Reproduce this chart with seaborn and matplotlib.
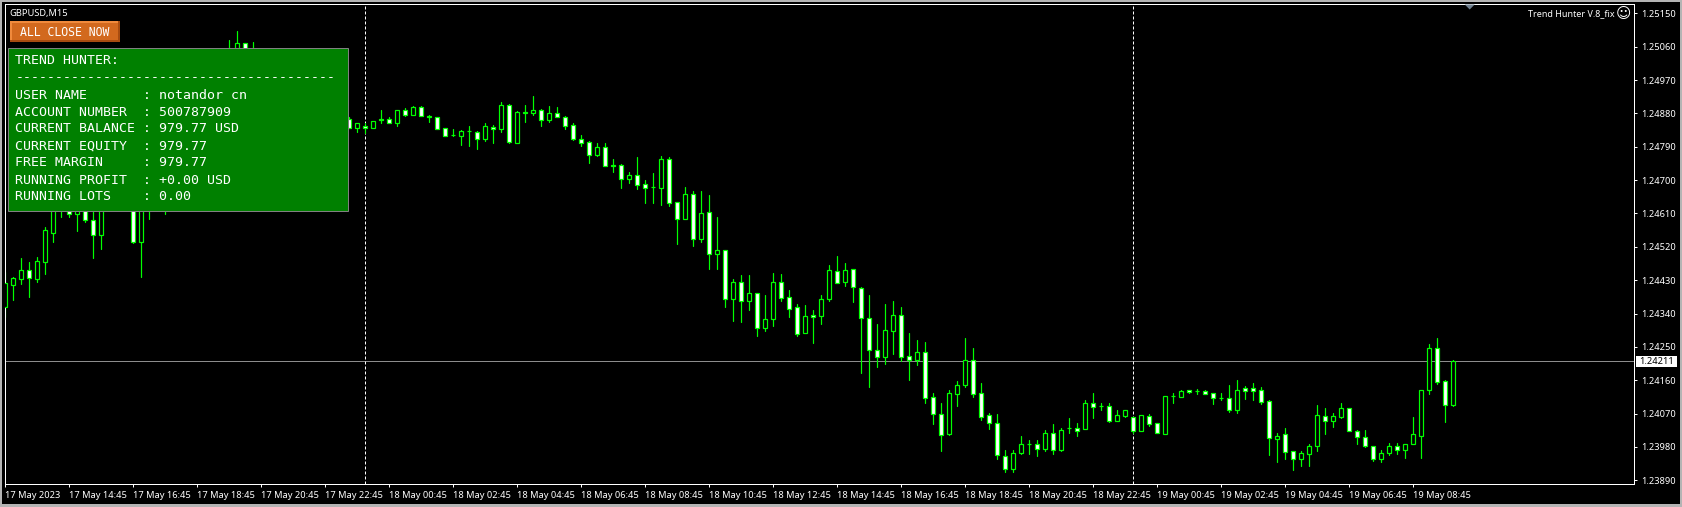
import matplotlib
matplotlib.use("Agg")
import matplotlib.pyplot as plt
from matplotlib.patches import Polygon, Rectangle
import pandas as pd
import seaborn as sns


# -----------------------------
# DATA (points above 1.24000, candles behind the panel are estimates)
# -----------------------------
base_price = 1.24

opens = [359, 417, 434, 457, 434, 480, 558, 640, 670, 608,
         650, 592, 553, 630, 665, 650, 720, 532, 720, 700,
         730, 700, 780, 830, 800, 880, 940, 910, 1010, 1040,
         1069, 1020, 990, 970, 940, 950, 910, 900, 920, 890,
         900, 870, 880, 864, 842, 846, 842, 865, 864, 855,
         889, 877, 897, 873, 870, 840, 821, 820, 832, 829,
         810, 843, 837, 902, 801, 883, 881, 889, 861, 881,
         870, 848, 810, 802, 769, 789, 741, 740, 702, 713,
         689, 681, 680, 756, 640, 594, 662, 542, 613, 502,
         511, 378, 424, 375, 395, 302, 324, 424, 384, 357,
         288, 335, 334, 380, 454, 426, 459, 408, 327, 243,
         224, 294, 335, 225, 216, 235, 114, 68, 16, 124,
         148, 216, 125, 65, 46, -43, -79, -36, -13, -13,
         -25, 17, -28, 30, 30, 29, 100, 90, 90, 51,
         64, 60, 24, 63, 44, 16, 117, 116, 134, 132,
         130, 125, 111, 111, 81, 138, 138, 133, 103, 2,
         14, -32, -52, -38, -17, 64, 51, 62, 84, 22,
         8, -16, -52, -36, -16, -28, -11, 10, 135, 246,
         157, 93]

highs = [451, 438, 489, 478, 493, 574, 680, 680, 690, 680,
         670, 640, 650, 680, 700, 690, 740, 740, 760, 740,
         760, 790, 840, 850, 890, 950, 960, 1020, 1078, 1102,
         1069, 1073, 1030, 990, 970, 960, 940, 930, 930, 910,
         910, 890, 890, 870, 854, 855, 859, 890, 870, 889,
         894, 899, 900, 877, 870, 840, 837, 836, 845, 833,
         855, 848, 910, 905, 886, 903, 927, 891, 900, 897,
         873, 854, 821, 805, 800, 800, 756, 743, 721, 762,
         700, 719, 765, 762, 640, 681, 670, 670, 659, 600,
         511, 432, 443, 443, 395, 390, 450, 446, 403, 365,
         362, 349, 389, 470, 495, 476, 459, 411, 389, 311,
         365, 373, 357, 287, 268, 262, 127, 100, 133, 157,
         273, 246, 154, 73, 68, -27, -27, 9, -2, 0,
         27, 41, 30, 57, 44, 106, 125, 100, 98, 80,
         81, 60, 65, 68, 44, 117, 125, 133, 135, 136,
         135, 125, 125, 146, 162, 144, 154, 141, 108, 17,
         30, -32, -32, -13, 92, 84, 73, 98, 84, 27,
         27, -16, -29, -8, -8, -13, 60, 135, 257, 273,
         162, 214]

lows = [330, 377, 420, 386, 426, 447, 533, 600, 601, 563,
        588, 491, 514, 625, 640, 630, 530, 440, 595, 650,
        609, 680, 770, 790, 790, 870, 900, 900, 990, 1020,
        1010, 980, 960, 930, 920, 900, 890, 880, 880, 870,
        860, 850, 850, 842, 831, 828, 842, 855, 853, 847,
        874, 877, 874, 858, 837, 818, 818, 796, 791, 783,
        806, 799, 831, 799, 801, 858, 877, 845, 858, 869,
        837, 807, 791, 745, 764, 737, 723, 680, 691, 677,
        637, 637, 634, 629, 529, 594, 523, 534, 461, 459,
        358, 320, 317, 350, 279, 293, 306, 375, 331, 279,
        288, 261, 312, 374, 423, 415, 372, 180, 143, 197,
        205, 232, 212, 162, 202, 99, 43, -30, 13, 91,
        143, 116, 54, 29, -52, -87, -87, -38, -38, -44,
        -30, -38, -30, 18, 10, 29, 59, 81, 48, 51,
        62, 17, 24, 37, 19, 16, 99, 116, 125, 122,
        122, 97, 107, 75, 72, 110, 108, 97, -41, -60,
        -52, -82, -71, -71, -30, 16, 35, 59, 24, -11,
        -19, -57, -60, -41, -38, -49, -11, -49, 124, 151,
        48, 90]

closes = [422, 435, 457, 437, 482, 565, 660, 670, 608, 650,
          593, 553, 630, 665, 650, 680, 532, 720, 700, 730,
          700, 780, 830, 800, 880, 940, 910, 1010, 1050, 1069,
          1020, 990, 970, 940, 950, 910, 900, 920, 890, 900,
          870, 880, 864, 842, 854, 842, 859, 861, 853, 889,
          877, 897, 874, 869, 839, 820, 821, 832, 832, 810,
          846, 837, 902, 804, 883, 880, 889, 861, 881, 869,
          847, 810, 801, 769, 789, 739, 737, 702, 713, 688,
          680, 681, 756, 639, 594, 662, 542, 611, 502, 511,
          380, 424, 375, 395, 302, 324, 424, 383, 353, 286,
          333, 332, 378, 457, 423, 457, 413, 329, 243, 224,
          295, 335, 224, 216, 235, 113, 70, 13, 125, 146,
          216, 124, 62, 45, -41, -79, -35, -13, -13, -25,
          17, -28, 27, 30, 24, 100, 89, 90, 51, 65,
          79, 22, 65, 43, 19, 117, 117, 130, 129, 132,
          122, 111, 111, 81, 133, 132, 132, 102, 3, 11,
          -33, -52, -37, -16, 65, 51, 63, 84, 24, 8,
          -17, -52, -35, -16, -28, -13, 14, 135, 246, 155,
          94, 211]

time_ticks = list(range(0, 177, 8))
time_labels = ["17 May 2023", "17 May 14:45", "17 May 16:45", "17 May 18:45",
               "17 May 20:45", "17 May 22:45", "18 May 00:45", "18 May 02:45",
               "18 May 04:45", "18 May 06:45", "18 May 08:45", "18 May 10:45",
               "18 May 12:45", "18 May 14:45", "18 May 16:45", "18 May 18:45",
               "18 May 20:45", "18 May 22:45", "19 May 00:45", "19 May 02:45",
               "19 May 04:45", "19 May 06:45", "19 May 08:45"]
price_ticks = [1.23890, 1.23980, 1.24070, 1.24160, 1.24250, 1.24340, 1.24430,
               1.24520, 1.24610, 1.24700, 1.24790, 1.24880, 1.24970, 1.25060,
               1.25150]
last_price = 1.24211
separators = [45, 141]

panel_lines = ["TREND HUNTER:",
               "-" * 40,
               "USER NAME       : notandor cn",
               "ACCOUNT NUMBER  : 500787909",
               "CURRENT BALANCE : 979.77 USD",
               "CURRENT EQUITY  : 979.77",
               "FREE MARGIN     : 979.77",
               "RUNNING PROFIT  : +0.00 USD",
               "RUNNING LOTS    : 0.00"]

# -----------------------------
# BUILD TABLES
# -----------------------------
candles = pd.DataFrame({"open": opens, "high": highs, "low": lows, "close": closes})
candles = candles * 1e-5 + base_price
candles["x"] = candles.index
candles["bottom"] = candles[["open", "close"]].min(axis=1)
candles["height"] = (candles["open"] - candles["close"]).abs()

wicks = candles.melt(id_vars="x", value_vars=["low", "high"], value_name="price")
down = candles[candles["close"] < candles["open"]]
up = candles[candles["close"] >= candles["open"]]

# -----------------------------
# FIGURE SETUP
# -----------------------------
W, H = 1682, 507
LIME = "#00FF00"
PX = 0.72  # one pixel in points

sns.set_theme(style="ticks", rc={
    "figure.facecolor": "black",
    "axes.facecolor": "black",
    "axes.edgecolor": "white",
    "axes.linewidth": PX,
    "xtick.color": "white",
    "ytick.color": "white",
})
plt.rcParams["font.family"] = ["Noto Sans", "DejaVu Sans"]


def fx(px):
    return px / W


def fy(py):
    return 1 - py / H


left, right, top, bottom = 4.8, 1634.3, 4.5, 484.3
fig = plt.figure(figsize=(W / 100, H / 100), dpi=100)
ax = fig.add_axes([fx(left), fy(bottom), (right - left) / W, (bottom - top) / H])

# -----------------------------
# MARKS
# -----------------------------
ax.axhline(last_price, color="#8C8C8C", lw=PX, zorder=1)
for s in separators:
    ax.axvline(s, color="white", lw=PX, ls=(0, (3, 2)), zorder=1)

sns.lineplot(data=wicks, x="x", y="price", units="x", estimator=None, color=LIME,
             lw=PX * 1.2, legend=False, ax=ax, zorder=2)

for subset, fill in [(down, "white"), (up, "black")]:
    sns.barplot(data=subset, x="x", y="height", bottom=subset["bottom"].values,
                native_scale=True, width=0.5, color=fill, saturation=1, errorbar=None,
                edgecolor=LIME, linewidth=PX * 1.2, legend=False, ax=ax, zorder=3)

# -----------------------------
# AXES
# -----------------------------
ax.set_xlim((left - 5.3) / 8, (right - 5.3) / 8)
ax.set_ylim(base_price + (1186 - 2.698 * bottom) * 1e-5, base_price + (1186 - 2.698 * top) * 1e-5)
ax.set_xlabel("")
ax.set_ylabel("")
ax.yaxis.tick_right()
ax.set_yticks(price_ticks, [f"{p:.5f}" for p in price_ticks])
ax.set_xticks(time_ticks, time_labels, ha="left")
ax.tick_params(axis="y", length=2.2, width=PX, pad=2.8, labelsize=6.7)
ax.tick_params(axis="x", length=2.2, width=PX, pad=2.5, labelsize=6.7)
for side in ["left", "right", "top", "bottom"]:
    ax.spines[side].set_visible(True)

# -----------------------------
# OVERLAYS
# -----------------------------
def box(x0, y0, x1, y1, color, edge="none", z=5):
    fig.add_artist(Rectangle((fx(x0), fy(y1)), (x1 - x0) / W, (y1 - y0) / H, transform=fig.transFigure,
                             facecolor=color, edgecolor=edge, lw=PX, zorder=z))


def label(x, y, s, **kw):
    fig.text(fx(x), fy(y), s, va="center", zorder=7, **{"color": "white", **kw})


# window frame
for frame in [(0, 0, W, 1.5), (0, 0, 1.5, H), (W - 2, 0, W, H), (0, H - 3, W, H)]:
    box(*frame, "#B4B4B4", z=8)

# chart shift marker
fig.add_artist(Polygon([(fx(1464.7), fy(4.5)), (fx(1474.7), fy(4.5)), (fx(1469.7), fy(9.5))],
                       transform=fig.transFigure, facecolor="#708090", edgecolor="none", zorder=5))

label(9, 13.5, "GBPUSD,M15", fontsize=6.7)
label(1614.5, 14, "Trend Hunter V.8_fix", fontsize=6.45, ha="right")
label(1623.3, 13.5, "\u263a", fontsize=10.5, ha="center", family="DejaVu Sans")

# button
box(10, 21, 120, 42, "#D2691E")
box(10, 21, 120, 22.5, "#F08A3C", z=6)
box(10, 21, 11.5, 42, "#F08A3C", z=6)
box(10, 40.5, 120, 42, "#A84C10", z=6)
box(118.5, 21, 120, 42, "#A84C10", z=6)
label(65, 32.3, "ALL CLOSE NOW", fontsize=8.3, family="DejaVu Sans Mono", ha="center")

# account panel
box(8, 48.5, 347.5, 210.5, "#008000", edge="#808080")
for n, line in enumerate(panel_lines):
    label(15.3, 61 + 17 * n, line, fontsize=9.55, family="DejaVu Sans Mono")

# last price tag
box(1636, 356, 1677, 366.7, "white")
label(1656.5, 361.8, f"{last_price:.5f}", fontsize=6.7, color="black", ha="center")

fig.savefig("out.png", dpi=100, facecolor="black")
